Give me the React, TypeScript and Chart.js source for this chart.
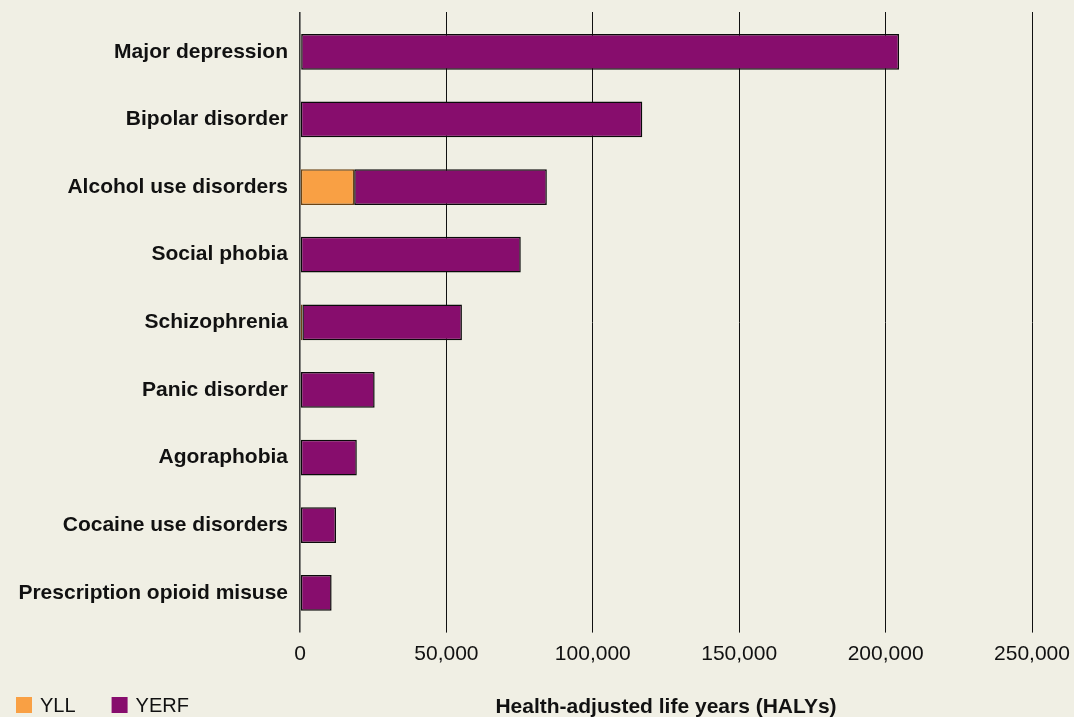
import { useEffect, useRef } from "react";
import { Chart, registerables } from "chart.js";

Chart.register(...registerables);

// Mental and substance use disorders, health-adjusted life years
const categories = [
  "Major depression",
  "Bipolar disorder",
  "Alcohol use disorders",
  "Social phobia",
  "Schizophrenia",
  "Panic disorder",
  "Agoraphobia",
  "Cocaine use disorders",
  "Prescription opioid misuse",
];

// Years of life lost
const yllValues = [400, 0, 18500, 0, 800, 0, 0, 300, 0];
// Years of equivalent full health lost
const yerfValues = [204200, 116900, 65800, 75400, 54500, 25500, 19400, 12000, 10800];

const xMin = 0;
const xMax = 250000;
const xStep = 50000;

const seriesLabels = ["YLL", "YERF"];
const seriesColors = ["#f9a044", "#870d6d"];
const seriesBorders = ["#6b4415", "#0a0a0a"];

const axisTitle = "Health-adjusted life years (HALYs)";

const FONT = "'Liberation Sans', Arial, Helvetica, sans-serif";
const BG = "#f0efe4";
const INK = "#111111";

// Draws the legend on the same row as the axis title, bottom left
const legendRow = {
  id: "legendRow",
  afterDraw(chart: any) {
    const ctx = chart.ctx as CanvasRenderingContext2D;
    ctx.save();
    ctx.font = `20px ${FONT}`;
    ctx.textBaseline = "middle";
    ctx.textAlign = "left";
    let x = 16;
    const y = chart.height - 12;
    chart.data.datasets.forEach((ds: any) => {
      ctx.fillStyle = ds.backgroundColor;
      ctx.fillRect(x, y - 8, 16, 16);
      ctx.fillStyle = INK;
      ctx.fillText(ds.label, x + 24, y + 1);
      x += 24 + ctx.measureText(ds.label).width + 36;
    });
    ctx.restore();
  },
};

export default function App() {
  const canvasRef = useRef<HTMLCanvasElement | null>(null);

  useEffect(() => {
    document.body.style.margin = "0";
    const canvas = canvasRef.current;
    if (!canvas) return;

    const gridColor = (c: any) => (c.tick && c.tick.value === 0 ? "#3a3a3a" : "#111111");
    const gridWidth = (c: any) => (c.tick && c.tick.value === 0 ? 1.6 : 1);

    const chart = new Chart(canvas, {
      type: "bar",
      data: {
        labels: categories,
        datasets: [
          {
            label: seriesLabels[0],
            data: yllValues,
            backgroundColor: seriesColors[0],
            borderColor: seriesBorders[0],
            borderWidth: 1.5,
            borderSkipped: false,
            xAxisID: "x",
          },
          {
            label: seriesLabels[1],
            data: yerfValues,
            backgroundColor: seriesColors[1],
            borderColor: seriesBorders[1],
            borderWidth: 1.5,
            borderSkipped: false,
            xAxisID: "x",
          },
        ],
      },
      options: {
        indexAxis: "y",
        responsive: false,
        animation: false,
        events: [],
        datasets: {
          bar: {
            categoryPercentage: 1,
            barPercentage: 0.528,
          },
        },
        layout: {
          padding: { top: 12, right: 0, bottom: 0, left: 0 },
        },
        plugins: {
          legend: { display: false },
          tooltip: { enabled: false },
        },
        scales: {
          x: {
            type: "linear",
            position: "bottom",
            stacked: true,
            min: xMin,
            max: xMax,
            border: { display: false },
            grid: {
              color: gridColor,
              lineWidth: gridWidth,
              drawTicks: true,
              tickLength: 6,
            },
            ticks: {
              stepSize: xStep,
              padding: 9,
              color: INK,
              font: { family: FONT, size: 21 },
              callback: (v: any) => Number(v).toLocaleString("en-US"),
            },
            title: {
              display: true,
              text: axisTitle,
              color: INK,
              font: { family: FONT, size: 21, weight: "bold" },
              padding: { top: 19, bottom: -3 },
            },
            // room on the right for the last tick label
            afterFit: (scale: any) => {
              scale.paddingRight = 42;
            },
          },
          xTop: {
            type: "linear",
            position: "top",
            min: xMin,
            max: xMax,
            border: { display: false },
            grid: {
              color: gridColor,
              lineWidth: gridWidth,
              drawOnChartArea: false,
              drawTicks: true,
              tickLength: 6,
            },
            ticks: { display: false, stepSize: xStep },
          },
          y: {
            type: "category",
            stacked: true,
            border: { display: false },
            // invisible tick marks keep the gap between labels and bars
            grid: {
              display: true,
              drawOnChartArea: false,
              drawTicks: true,
              tickLength: 12,
              color: "rgba(0,0,0,0)",
            },
            ticks: {
              padding: 0,
              color: INK,
              font: { family: FONT, size: 21, weight: "bold" },
            },
            afterFit: (scale: any) => {
              scale.width = 300;
            },
          },
        },
      },
      plugins: [legendRow],
    } as any);

    return () => chart.destroy();
  }, []);

  return (
    <div style={{ width: 1074, height: 717, background: BG }}>
      <canvas ref={canvasRef} width={1074} height={717} style={{ display: "block" }} />
    </div>
  );
}
